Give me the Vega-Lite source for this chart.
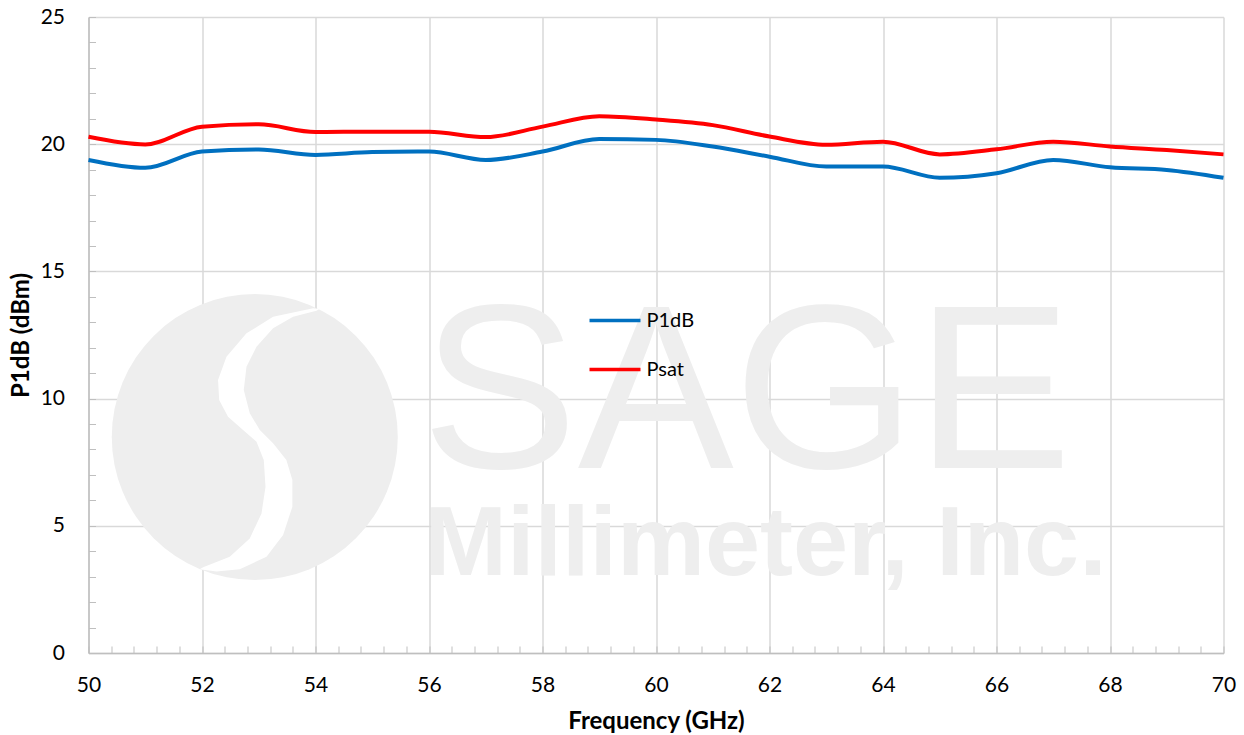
{
  "$schema": "https://vega.github.io/schema/vega-lite/v6.json",
  "width": 1135,
  "height": 636,
  "autosize": {"type": "none"},
  "padding": {"left": 88.5, "top": 17, "right": 20, "bottom": 82},
  "background": "white",
  "config": {
    "font": "Lato",
    "view": {"stroke": null},
    "axis": {"labelFont": "Lato", "titleFont": "Lato", "labelColor": "#000", "titleColor": "#000", "zindex": 1}
  },
  "datasets": {
    "perf": [
      {"freq": 50, "series": "P1dB", "dbm": 19.38},
      {"freq": 51, "series": "P1dB", "dbm": 19.07},
      {"freq": 52, "series": "P1dB", "dbm": 19.71},
      {"freq": 53, "series": "P1dB", "dbm": 19.79},
      {"freq": 54, "series": "P1dB", "dbm": 19.58},
      {"freq": 55, "series": "P1dB", "dbm": 19.69},
      {"freq": 56, "series": "P1dB", "dbm": 19.71},
      {"freq": 57, "series": "P1dB", "dbm": 19.38},
      {"freq": 58, "series": "P1dB", "dbm": 19.71},
      {"freq": 59, "series": "P1dB", "dbm": 20.2},
      {"freq": 60, "series": "P1dB", "dbm": 20.17},
      {"freq": 61, "series": "P1dB", "dbm": 19.91},
      {"freq": 62, "series": "P1dB", "dbm": 19.51},
      {"freq": 63, "series": "P1dB", "dbm": 19.12},
      {"freq": 64, "series": "P1dB", "dbm": 19.12},
      {"freq": 65, "series": "P1dB", "dbm": 18.68},
      {"freq": 66, "series": "P1dB", "dbm": 18.86},
      {"freq": 67, "series": "P1dB", "dbm": 19.38},
      {"freq": 68, "series": "P1dB", "dbm": 19.09},
      {"freq": 69, "series": "P1dB", "dbm": 18.99},
      {"freq": 70, "series": "P1dB", "dbm": 18.68},
      {"freq": 50, "series": "Psat", "dbm": 20.29},
      {"freq": 51, "series": "Psat", "dbm": 19.99},
      {"freq": 52, "series": "Psat", "dbm": 20.69},
      {"freq": 53, "series": "Psat", "dbm": 20.78},
      {"freq": 54, "series": "Psat", "dbm": 20.48},
      {"freq": 55, "series": "Psat", "dbm": 20.49},
      {"freq": 56, "series": "Psat", "dbm": 20.49},
      {"freq": 57, "series": "Psat", "dbm": 20.28},
      {"freq": 58, "series": "Psat", "dbm": 20.69},
      {"freq": 59, "series": "Psat", "dbm": 21.1},
      {"freq": 60, "series": "Psat", "dbm": 20.97},
      {"freq": 61, "series": "Psat", "dbm": 20.75},
      {"freq": 62, "series": "Psat", "dbm": 20.3},
      {"freq": 63, "series": "Psat", "dbm": 19.98},
      {"freq": 64, "series": "Psat", "dbm": 20.1},
      {"freq": 65, "series": "Psat", "dbm": 19.6},
      {"freq": 66, "series": "Psat", "dbm": 19.8},
      {"freq": 67, "series": "Psat", "dbm": 20.1},
      {"freq": 68, "series": "Psat", "dbm": 19.91},
      {"freq": 69, "series": "Psat", "dbm": 19.77},
      {"freq": 70, "series": "Psat", "dbm": 19.6}
    ],
    "mark": [
      {"label": "SAGE", "kind": "big"},
      {"label": "Millimeter, Inc.", "kind": "small"}
    ]
  },
  "layer": [
    {
      "data": {"values": [{"logo": "disc"}]},
      "mark": {"type": "point", "shape": "circle", "filled": true, "color": "#eeeeee", "opacity": 1, "size": 81796},
      "encoding": {
        "x": {"datum": 52.93, "type": "quantitative"},
        "y": {"datum": 8.49, "type": "quantitative"}
      }
    },
    {
      "data": {"values": [{"logo": "band"}]},
      "mark": {"type": "point", "shape": "M0.408,-0.9L0.128,-0.841L-0.058,-0.725L-0.198,-0.562L-0.257,-0.399L-0.249,-0.259L-0.187,-0.142L-0.082,-0.049L0.012,0.033L0.063,0.161L0.075,0.348L0.047,0.534L-0.035,0.709L-0.175,0.837L-0.361,0.911L-0.385,0.925L-0.268,0.94L-0.105,0.925L0.082,0.837L0.198,0.685L0.263,0.487L0.263,0.301L0.221,0.161L0.128,0.044L0.035,-0.049L-0.035,-0.166L-0.077,-0.329L-0.058,-0.492L0.012,-0.632L0.128,-0.76L0.268,-0.841L0.431,-0.883L0.45,-0.893Z", "filled": true, "color": "#ffffff", "opacity": 1, "size": 81796},
      "encoding": {
        "x": {"datum": 52.93, "type": "quantitative"},
        "y": {"datum": 8.49, "type": "quantitative"}
      }
    },
    {
      "data": {"name": "mark"},
      "transform": [{"filter": "datum.kind == 'big'"}],
      "mark": {"type": "text", "font": "Liberation Sans", "fontSize": 234, "fontWeight": "normal", "align": "left", "baseline": "alphabetic", "color": "#eeeeee"},
      "encoding": {
        "x": {"datum": 55.87, "type": "quantitative"},
        "y": {"datum": 7.27, "type": "quantitative"},
        "text": {"field": "label"}
      }
    },
    {
      "data": {"name": "mark"},
      "transform": [{"filter": "datum.kind == 'small'"}],
      "mark": {"type": "text", "font": "Liberation Sans", "fontSize": 99, "fontWeight": "bold", "align": "left", "baseline": "alphabetic", "color": "#eeeeee"},
      "encoding": {
        "x": {"datum": 55.92, "type": "quantitative"},
        "y": {"datum": 3.07, "type": "quantitative"},
        "text": {"field": "label"}
      }
    },
    {
      "data": {"name": "perf"},
      "mark": {"type": "line", "strokeWidth": 4, "interpolate": "monotone", "zindex": 2},
      "encoding": {
        "x": {
          "field": "freq", "type": "quantitative",
          "scale": {"domain": [50, 70], "nice": false, "zero": false},
          "axis": {
            "title": "Frequency (GHz)",
            "titleFontSize": 24, "titleFontWeight": "bold", "titlePadding": 14,
            "tickCount": 200,
            "values": [50, 50.4, 50.8, 51.2, 51.6, 52, 52.4, 52.8, 53.2, 53.6, 54, 54.4, 54.8, 55.2, 55.6, 56, 56.4, 56.8, 57.2, 57.6, 58, 58.4, 58.8, 59.2, 59.6, 60, 60.4, 60.8, 61.2, 61.6, 62, 62.4, 62.8, 63.2, 63.6, 64, 64.4, 64.8, 65.2, 65.6, 66, 66.4, 66.8, 67.2, 67.6, 68, 68.4, 68.8, 69.2, 69.6, 70],
            "labelExpr": "abs(datum.value - round(datum.value/2)*2) < 0.01 ? format(datum.value, 'd') : ''",
            "labelFontSize": 21, "labelPadding": 28,
            "labelFlush": false, "labelOverlap": false,
            "grid": true,
            "gridColor": "#d9d9d9", "gridWidth": 1.5,
            "gridOpacity": {"condition": {"test": "abs(datum.value - round(datum.value/2)*2) < 0.01", "value": 1}, "value": 0},
            "tickSize": -7, "tickColor": "#bfbfbf", "tickWidth": 1,
            "domainColor": "#bfbfbf", "domainWidth": 1.5
          }
        },
        "y": {
          "field": "dbm", "type": "quantitative",
          "scale": {"domain": [0, 25], "nice": false},
          "axis": {
            "title": "P1dB (dBm)",
            "titleFontSize": 24, "titleFontWeight": "bold", "titlePadding": 7,
            "tickCount": 200,
            "values": [0, 1, 2, 3, 4, 5, 6, 7, 8, 9, 10, 11, 12, 13, 14, 15, 16, 17, 18, 19, 20, 21, 22, 23, 24, 25],
            "labelExpr": "datum.value % 5 == 0 ? format(datum.value, 'd') : ''",
            "labelFontSize": 21, "labelPadding": 31,
            "labelFlush": false, "labelOverlap": false,
            "grid": true,
            "gridColor": "#d9d9d9", "gridWidth": 1.5,
            "gridOpacity": {"condition": {"test": "datum.value % 5 == 0", "value": 1}, "value": 0},
            "tickSize": -7, "tickColor": "#bfbfbf", "tickWidth": 1,
            "domainColor": "#bfbfbf", "domainWidth": 1.5
          }
        },
        "color": {
          "field": "series", "type": "nominal",
          "scale": {"domain": ["P1dB", "Psat"], "range": ["#0070C0", "#FF0000"]},
          "legend": {
            "title": null,
            "orient": "none",
            "legendX": 499,
            "legendY": 276,
            "padding": 0,
            "symbolType": "stroke",
            "symbolSize": 2600,
            "symbolStrokeWidth": 3.5,
            "labelFontSize": 20,
            "labelFont": "Lato",
            "labelColor": "#000",
            "labelOffset": 4,
            "rowPadding": 11
          }
        }
      }
    }
  ]
}
